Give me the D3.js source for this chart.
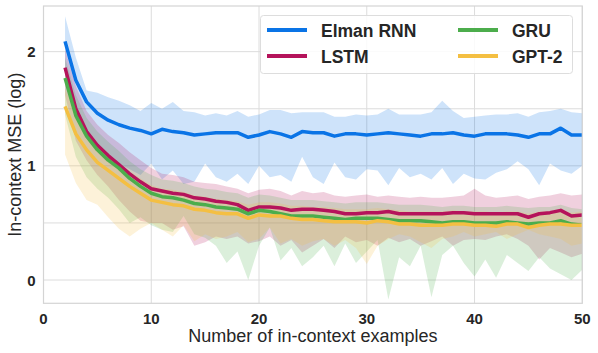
<!DOCTYPE html>
<html>
<head>
<meta charset="utf-8">
<script src="https://d3js.org/d3.v7.min.js"></script>
<style>
body { margin: 0; background: #fff; }
svg { font-family: "Liberation Sans", Arial, sans-serif; }
</style>
</head>
<body>
<svg id="chart" width="598" height="353"></svg>
<script>
// number of in-context examples
var xs = d3.range(2, 51)

var elmanMean = [2.09,1.75,1.56,1.46,1.40,1.36,1.33,1.31,1.28,1.32,1.30,1.29,1.27,1.28,1.29,1.29,1.29,1.25,1.27,1.30,1.28,1.25,1.30,1.29,1.29,1.26,1.28,1.28,1.27,1.28,1.29,1.28,1.27,1.26,1.28,1.28,1.29,1.27,1.26,1.28,1.28,1.28,1.27,1.25,1.28,1.28,1.33,1.27,1.27]
var elmanHi = [2.31,1.95,1.66,1.64,1.60,1.57,1.53,1.48,1.55,1.50,1.56,1.48,1.47,1.44,1.46,1.44,1.48,1.43,1.45,1.49,1.49,1.46,1.47,1.47,1.47,1.43,1.43,1.45,1.44,1.45,1.50,1.45,1.45,1.45,1.47,1.57,1.48,1.42,1.43,1.44,1.45,1.45,1.46,1.43,1.47,1.48,1.50,1.47,1.46]
var elmanLo = [1.85,1.50,1.30,1.17,1.08,1.02,0.97,0.92,1.02,0.88,0.96,0.84,0.86,1.02,0.90,0.86,0.93,0.84,1.00,0.90,0.92,0.86,1.08,0.90,0.84,1.03,0.90,0.88,0.97,0.96,0.83,0.98,0.90,0.93,0.88,0.98,0.84,0.93,0.89,0.88,0.94,0.97,1.04,0.97,0.83,1.02,0.96,0.93,1.00]

var lstmMean = [1.86,1.50,1.30,1.18,1.09,1.01,0.93,0.86,0.80,0.78,0.76,0.75,0.72,0.71,0.69,0.68,0.66,0.61,0.64,0.64,0.63,0.61,0.62,0.62,0.61,0.60,0.58,0.58,0.59,0.59,0.60,0.58,0.58,0.58,0.58,0.58,0.59,0.59,0.58,0.58,0.58,0.58,0.58,0.55,0.58,0.59,0.61,0.56,0.57]
var lstmHi = [2.02,1.70,1.48,1.36,1.27,1.20,1.12,1.05,0.98,0.93,0.92,0.90,0.86,0.85,0.84,0.82,0.80,0.76,0.79,0.80,0.78,0.74,0.78,0.76,0.77,0.74,0.73,0.74,0.75,0.73,0.74,0.73,0.72,0.73,0.72,0.72,0.73,0.74,0.80,0.74,0.72,0.73,0.74,0.71,0.73,0.74,0.76,0.74,0.75]
var lstmLo = [1.62,1.22,1.05,0.92,0.82,0.70,0.60,0.52,0.50,0.50,0.44,0.47,0.30,0.33,0.38,0.36,0.38,0.32,0.34,0.38,0.30,0.35,0.24,0.30,0.36,0.28,0.38,0.33,0.35,0.30,0.37,0.33,0.36,0.30,0.34,0.38,0.30,0.35,0.36,0.35,0.38,0.40,0.36,0.30,0.18,0.28,0.24,0.20,0.23]

var gruMean = [1.77,1.44,1.26,1.14,1.05,0.98,0.89,0.82,0.76,0.73,0.72,0.70,0.67,0.66,0.64,0.63,0.62,0.58,0.61,0.60,0.58,0.56,0.56,0.56,0.55,0.54,0.53,0.54,0.54,0.54,0.53,0.52,0.52,0.52,0.51,0.50,0.51,0.51,0.50,0.50,0.50,0.51,0.50,0.49,0.50,0.50,0.52,0.49,0.48]
var gruHi = [1.95,1.62,1.42,1.30,1.21,1.13,1.04,0.97,0.92,0.88,0.87,0.85,0.82,0.80,0.79,0.77,0.76,0.72,0.75,0.74,0.72,0.70,0.70,0.70,0.69,0.68,0.67,0.68,0.68,0.68,0.67,0.66,0.66,0.66,0.65,0.64,0.65,0.65,0.64,0.64,0.64,0.65,0.64,0.63,0.64,0.64,0.66,0.63,0.62]
var gruLo = [1.45,1.08,0.90,0.80,0.72,0.62,0.50,0.55,0.48,0.44,0.42,0.56,0.40,0.37,0.30,0.15,0.25,0.00,0.30,0.46,0.17,0.28,0.12,0.20,0.30,0.12,0.32,0.15,0.25,0.35,-0.17,0.20,0.12,0.30,-0.15,0.22,0.30,0.15,0.03,0.18,0.02,0.22,0.15,0.08,0.20,0.10,0.05,0.00,0.09]

var gptMean = [1.52,1.28,1.14,1.03,0.96,0.89,0.82,0.76,0.70,0.68,0.66,0.65,0.62,0.61,0.59,0.58,0.58,0.54,0.57,0.56,0.56,0.54,0.53,0.53,0.52,0.51,0.51,0.51,0.50,0.52,0.51,0.49,0.49,0.48,0.48,0.48,0.49,0.49,0.48,0.48,0.47,0.49,0.49,0.46,0.48,0.49,0.49,0.48,0.48]
var gptHi = [1.68,1.45,1.30,1.18,1.10,1.02,0.95,0.89,0.83,0.80,0.79,0.77,0.74,0.73,0.71,0.70,0.69,0.66,0.68,0.68,0.67,0.65,0.65,0.64,0.64,0.63,0.62,0.62,0.62,0.63,0.62,0.61,0.60,0.60,0.60,0.60,0.61,0.60,0.60,0.60,0.59,0.60,0.60,0.58,0.60,0.60,0.61,0.59,0.60]
var gptLo = [1.10,0.85,0.70,0.66,0.55,0.45,0.38,0.45,0.50,0.44,0.38,0.48,0.34,0.40,0.36,0.38,0.42,0.33,0.36,0.46,0.32,0.36,0.30,0.34,0.36,0.30,0.35,0.28,0.14,0.30,0.36,0.40,0.38,0.33,0.28,0.36,0.38,0.42,0.38,0.40,0.42,0.36,0.40,0.44,0.40,0.38,0.36,0.30,0.32]

var seriesNames = ["Elman RNN", "LSTM", "GRU", "GPT-2"]
var seriesColors = ["#0a74e6", "#b5135b", "#4cad4c", "#f4bf42"]
var xTicks = [0, 10, 20, 30, 40, 50]
var yTicks = [0, 1, 2]
var yGrid = [0, 0.5, 1, 1.5, 2]

var series = [
    {name: seriesNames[0], color: seriesColors[0], mean: elmanMean, lo: elmanLo, hi: elmanHi},
    {name: seriesNames[1], color: seriesColors[1], mean: lstmMean, lo: lstmLo, hi: lstmHi},
    {name: seriesNames[2], color: seriesColors[2], mean: gruMean, lo: gruLo, hi: gruHi},
    {name: seriesNames[3], color: seriesColors[3], mean: gptMean, lo: gptLo, hi: gptHi}
]

var svg = d3.select("#chart")
var margin = {left: 43.5, right: 15.7, top: 6, bottom: 49.7}
var width = 598, height = 353

var x = d3.scaleLinear().domain([0, 50]).range([margin.left, width - margin.right])
var y = d3.scaleLinear().domain([-0.204, 2.4]).range([height - margin.bottom, margin.top])

// grid
svg.append("g").selectAll("line").data(xTicks).join("line")
    .attr("x1", d => x(d)).attr("x2", d => x(d))
    .attr("y1", margin.top).attr("y2", height - margin.bottom)
    .style("stroke", "#dcdcdc").style("stroke-width", 1)
svg.append("g").selectAll("line").data(yGrid).join("line")
    .attr("x1", margin.left).attr("x2", width - margin.right)
    .attr("y1", d => y(d)).attr("y2", d => y(d))
    .style("stroke", "#dcdcdc").style("stroke-width", 1)

// clip the bands to the plot area
svg.append("clipPath").attr("id", "clip").append("rect")
    .attr("x", margin.left).attr("y", margin.top)
    .attr("width", width - margin.left - margin.right)
    .attr("height", height - margin.top - margin.bottom)

var plot = svg.append("g").attr("clip-path", "url(#clip)")

var area = d3.area()
    .x((d, i) => x(xs[i]))
    .y0(d => y(d[0]))
    .y1(d => y(d[1]))
var line = d3.line()
    .x((d, i) => x(xs[i]))
    .y(d => y(d))

for (let s of series) {
    plot.append("path")
        .datum(s.lo.map((v, i) => [v, s.hi[i]]))
        .attr("d", area)
        .style("fill", s.color)
        .style("fill-opacity", 0.2)
}
for (let s of series) {
    plot.append("path")
        .datum(s.mean)
        .attr("d", line)
        .style("fill", "none")
        .style("stroke", s.color)
        .style("stroke-width", 3.5)
        .style("stroke-linejoin", "round")
}

// frame
svg.append("rect")
    .attr("x", margin.left).attr("y", margin.top)
    .attr("width", width - margin.left - margin.right)
    .attr("height", height - margin.top - margin.bottom)
    .style("fill", "none").style("stroke", "#d4d4d4").style("stroke-width", 1.2)

// tick labels
svg.append("g").selectAll("text").data(xTicks).join("text")
    .attr("x", d => x(d)).attr("y", height - margin.bottom + 21)
    .attr("text-anchor", "middle")
    .style("font-size", "15px").style("font-weight", "bold").style("fill", "#262626")
    .text(d => d)
svg.append("g").selectAll("text").data(yTicks).join("text")
    .attr("x", margin.left - 8).attr("y", d => y(d) + 5.5)
    .attr("text-anchor", "end")
    .style("font-size", "15px").style("font-weight", "bold").style("fill", "#262626")
    .text(d => d)

// axis titles
svg.append("text")
    .attr("x", (margin.left + width - margin.right) / 2).attr("y", 342)
    .attr("text-anchor", "middle")
    .style("font-size", "18px").style("fill", "#262626")
    .text("Number of in-context examples")
svg.append("text")
    .attr("transform", "translate(21," + ((margin.top + height - margin.bottom) / 2) + ") rotate(-90)")
    .attr("text-anchor", "middle")
    .style("font-size", "18px").style("fill", "#262626")
    .text("In-context MSE (log)")

// legend
var legend = svg.append("g")
legend.append("rect")
    .attr("x", 260.5).attr("y", 15.5).attr("width", 312).attr("height", 58).attr("rx", 3)
    .style("fill", "#fff").style("fill-opacity", 0.85)
    .style("stroke", "#dddddd").style("stroke-width", 1)
var legendPos = [[267, 30], [267, 56], [458, 30], [458, 56]]
series.forEach(function(s, i) {
    let p = legendPos[i]
    legend.append("line")
        .attr("x1", p[0]).attr("x2", p[0] + 40)
        .attr("y1", p[1]).attr("y2", p[1])
        .style("stroke", s.color).style("stroke-width", 4)
    legend.append("text")
        .attr("x", p[0] + 54).attr("y", p[1] + 6.5)
        .style("font-size", "17.5px").style("font-weight", "bold").style("fill", "#262626")
        .text(s.name)
})
</script>
</body>
</html>
